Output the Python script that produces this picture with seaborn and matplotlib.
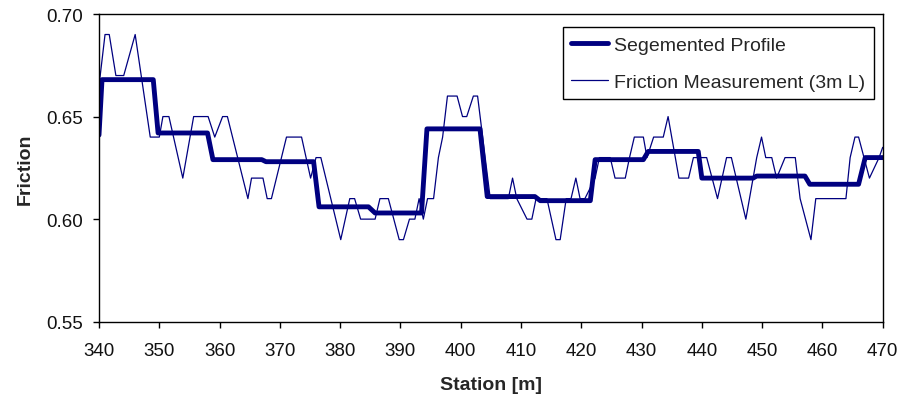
import matplotlib
matplotlib.use("Agg")
import matplotlib.pyplot as plt
import seaborn as sns
import pandas as pd

# Friction measurement (thin line): station [m], friction
meas_station = [340.0, 341.0, 341.7, 342.8, 344.1, 346.0, 348.5, 350.0, 350.6, 351.6,
                353.9, 355.7, 358.1, 359.2, 360.5, 361.3, 364.7, 365.3, 367.2, 367.9,
                368.6, 371.1, 373.6, 375.1, 376.0, 376.8, 380.1, 381.6, 382.4, 383.4,
                385.8, 386.6, 388.0, 389.8, 390.5, 391.5, 392.4, 393.1, 393.8, 394.5,
                395.5, 396.3, 397.0, 397.8, 399.4, 400.3, 401.0, 402.1, 402.8, 404.9,
                407.9, 408.6, 409.3, 411.0, 411.8, 412.5, 414.3, 415.8, 416.5, 417.5,
                418.3, 419.1, 419.8, 420.6, 422.3, 423.0, 424.8, 425.6, 427.3, 428.0,
                428.8, 430.3, 430.9, 432.0, 433.6, 434.4, 436.2, 437.8, 438.6, 440.8,
                442.6, 444.1, 444.9, 447.3, 449.1, 449.9, 450.6, 451.6, 452.4, 453.8,
                455.5, 456.3, 458.1, 458.9, 463.9, 464.6, 465.4, 466.0, 467.8, 469.4,
                470.0]
meas_friction = [0.665, 0.69, 0.69, 0.67, 0.67, 0.69, 0.64, 0.64, 0.65, 0.65,
                 0.62, 0.65, 0.65, 0.64, 0.65, 0.65, 0.61, 0.62, 0.62, 0.61,
                 0.61, 0.64, 0.64, 0.62, 0.63, 0.63, 0.59, 0.61, 0.61, 0.60,
                 0.60, 0.61, 0.61, 0.59, 0.59, 0.60, 0.60, 0.61, 0.60, 0.61,
                 0.61, 0.63, 0.64, 0.66, 0.66, 0.65, 0.65, 0.66, 0.66, 0.61,
                 0.61, 0.62, 0.61, 0.60, 0.60, 0.61, 0.61, 0.59, 0.59, 0.61,
                 0.61, 0.62, 0.61, 0.61, 0.62, 0.63, 0.63, 0.62, 0.62, 0.63,
                 0.64, 0.64, 0.63, 0.64, 0.64, 0.65, 0.62, 0.62, 0.63, 0.63,
                 0.61, 0.63, 0.63, 0.60, 0.63, 0.64, 0.63, 0.63, 0.62, 0.63,
                 0.63, 0.61, 0.59, 0.61, 0.61, 0.63, 0.64, 0.64, 0.62, 0.63,
                 0.635]

# Segmented profile (thick line)
seg_station = [340.0, 340.5, 349.0, 349.8, 358.0, 358.9, 367.0, 367.7, 375.6, 376.5,
               384.7, 385.8, 393.5, 394.4, 403.2, 404.4, 412.3, 413.2, 421.5, 422.3,
               430.3, 431.1, 439.4, 440.0, 448.5, 449.1, 457.1, 457.9, 466.0, 467.1,
               470.0]
seg_friction = [0.641, 0.668, 0.668, 0.642, 0.642, 0.629, 0.629, 0.628, 0.628, 0.606,
                0.606, 0.603, 0.603, 0.644, 0.644, 0.611, 0.611, 0.609, 0.609, 0.629,
                0.629, 0.633, 0.633, 0.620, 0.620, 0.621, 0.621, 0.617, 0.617, 0.630,
                0.630]

x_ticks = list(range(340, 471, 10))
y_ticks = [0.55, 0.60, 0.65, 0.70]

sns.set_theme(style="white")
plt.rcParams["font.family"] = ["Liberation Sans", "DejaVu Sans"]

navy = "#000080"
fig = plt.figure(figsize=(8.99, 4.02), dpi=100)
ax = fig.add_axes([99 / 899, 1 - 322.7 / 402, (882.7 - 99) / 899, (322.7 - 15) / 402])

seg_df = pd.DataFrame({"Station": seg_station, "Friction": seg_friction})
meas_df = pd.DataFrame({"Station": meas_station, "Friction": meas_friction})

sns.lineplot(data=seg_df, x="Station", y="Friction", ax=ax, color=navy,
             linewidth=3.5, estimator=None, sort=False, label="Segemented Profile")
sns.lineplot(data=meas_df, x="Station", y="Friction", ax=ax, color=navy,
             linewidth=0.9, estimator=None, sort=False,
             label="Friction Measurement (3m L)")

ax.set_xlim(340, 470)
ax.set_ylim(0.55, 0.70)
ax.set_xticks(x_ticks)
ax.set_yticks(y_ticks)
ax.set_yticklabels([f"{v:.2f}" for v in y_ticks])
ax.tick_params(axis="both", direction="out", length=4.5, width=1.0,
               color="black", labelsize=13.5, labelcolor="#111111",
               bottom=True, left=True)
ax.tick_params(axis="x", pad=10)
ax.tick_params(axis="y", pad=7)
ax.set_xlabel("Station [m]", fontsize=14, fontweight="bold", labelpad=12)
ax.set_ylabel("Friction", fontsize=14, fontweight="bold", labelpad=9)
for s in ax.spines.values():
    s.set_visible(True)
    s.set_color("black")
    s.set_linewidth(1.0)
ax.grid(False)

leg = ax.legend(loc="upper right", bbox_to_anchor=(874 / 899, 1 - 28.3 / 402),
                bbox_transform=fig.transFigure, borderaxespad=0, fontsize=14,
                frameon=True, fancybox=False, framealpha=1, edgecolor="black",
                handlelength=1.9, handletextpad=0.3, labelspacing=1.0,
                borderpad=0.45)
leg.get_frame().set_linewidth(1.0)

fig.savefig("out.png", dpi=100, facecolor="white")
